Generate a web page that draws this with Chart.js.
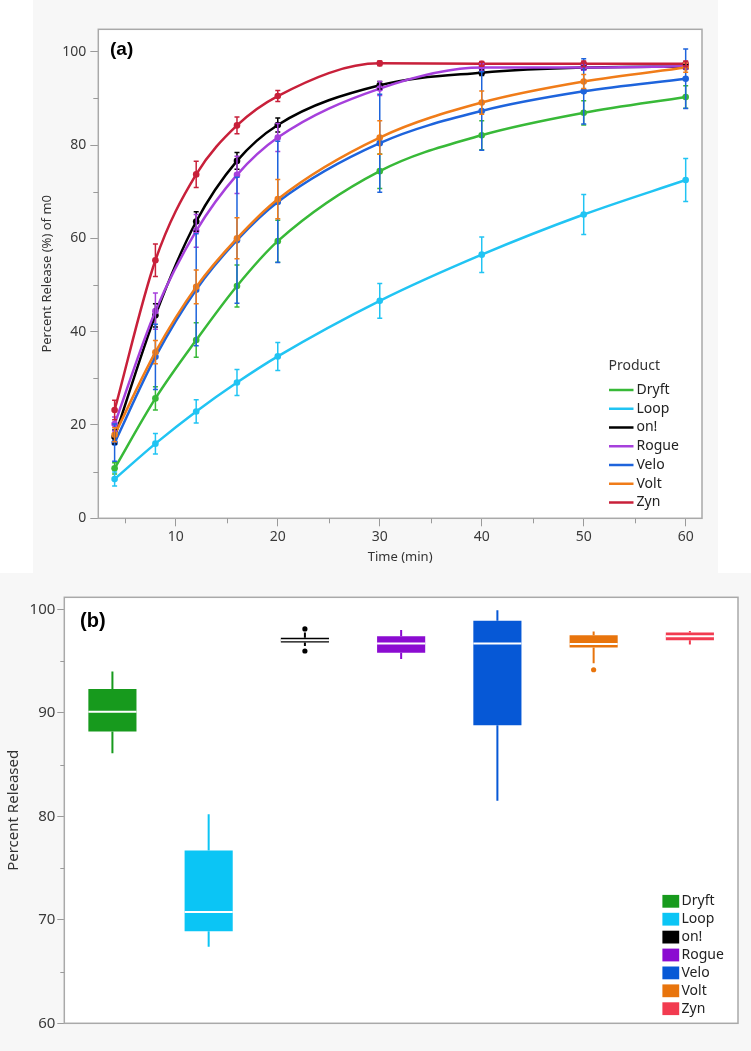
<!DOCTYPE html>
<html><head><meta charset="utf-8">
<script src="https://cdn.jsdelivr.net/npm/chart.js@4.4.1/dist/chart.umd.min.js"></script>
<style>
html,body{margin:0;padding:0;background:#fff;width:751px;height:1051px;overflow:hidden;}
#pa{position:absolute;left:33px;top:0;width:685px;height:573px;background:#f7f7f7;}
#pb{position:absolute;left:0;top:573px;width:751px;height:478px;background:#f7f7f7;}
canvas{display:block;}
</style></head><body>
<div id="pa"><canvas id="ca" width="685" height="573"></canvas></div>
<div id="pb"><canvas id="cb" width="751" height="478"></canvas></div>
<script>
// ---------- data: panel (a) ----------
const products = ['Dryft','Loop','on!','Rogue','Velo','Volt','Zyn'];
const times = [4, 8, 12, 16, 20, 30, 40, 50, 60];
const dryftMean = [10.7, 25.7, 38.2, 49.8, 59.4, 74.4, 82.1, 86.9, 90.3];
const loopMean  = [8.4, 16.0, 22.9, 29.1, 34.7, 46.6, 56.5, 65.1, 72.5];
const onMean    = [17.4, 43.5, 63.6, 76.6, 84.3, 92.8, 95.5, 96.6, 96.8];
const rogueMean = [20.2, 44.4, 61.6, 73.6, 81.6, 92.1, 96.6, 96.6, 96.9];
const veloMean  = [16.2, 34.6, 49.0, 59.6, 67.8, 80.4, 87.3, 91.5, 94.2];
const voltMean  = [17.9, 35.6, 49.6, 60.0, 68.4, 81.6, 89.1, 93.6, 96.6];
const zynMean   = [23.2, 55.3, 73.7, 84.2, 90.5, 97.5, 97.4, 97.4, 97.4];
const dryftSD = [1.2, 2.5, 3.7, 4.5, 4.5, 3.7, 3.1, 2.6, 2.4];
const loopSD  = [1.5, 2.2, 2.5, 2.8, 3.0, 3.7, 3.8, 4.3, 4.6];
const onSD    = [1.5, 2.5, 2.1, 1.8, 1.5, 0.8, 0.6, 0.5, 0.5];
const rogueSD = [1.5, 3.9, 3.5, 4.0, 3.0, 1.5, 0.8, 0.6, 0.6];
const veloSD  = [4.0, 7.0, 12.0, 13.5, 13.0, 10.5, 8.4, 7.0, 6.4];
const voltSD  = [1.5, 2.5, 3.6, 4.4, 4.2, 3.6, 2.5, 1.5, 1.0];
const zynSD   = [2.1, 3.5, 2.8, 1.8, 1.2, 0.5, 0.5, 0.6, 0.6];
const xTicksA = [10, 20, 30, 40, 50, 60];
const xMinorA = [5, 15, 25, 35, 45, 55];
const yTicksA = [0, 20, 40, 60, 80, 100];
const yMinorA = [10, 30, 50, 70, 90];

// ---------- data: panel (b) ----------
const whiskerLow  = [86.1, 67.4, 96.45, 95.2, 81.5, 94.8, 96.6];
const quart1      = [88.2, 68.9, 96.8, 95.8, 88.8, 96.3, 97.0];
const medianVal   = [90.1, 70.75, 97.0, 96.7, 96.7, 96.65, 97.4];
const quart3      = [92.3, 76.7, 97.25, 97.4, 98.9, 97.5, 97.75];
const whiskerHigh = [94.0, 80.2, 97.75, 98.0, 99.9, 97.85, 97.9];
const outlierProduct = ['on!', 'on!', 'Volt'];
const outlierValue   = [98.1, 95.97, 94.16];
const yTicksB = [60, 70, 80, 90, 100];
const yMinorB = [65, 75, 85, 95];

const colorsA = ['#38b938','#21c4f3','#000000','#a640dc','#1e64dc','#f07c19','#c8203a'];
const colorsB = ['#179a1d','#0bc5f5','#000000','#8b0bd1','#0658d6','#e8740c','#f23b50'];

const FAM = "'Noto Sans','DejaVu Sans',sans-serif";
Chart.defaults.font.family = FAM;
Chart.defaults.animation = false;

const meansA = [dryftMean, loopMean, onMean, rogueMean, veloMean, voltMean, zynMean];
const sdsA = [dryftSD, loopSD, onSD, rogueSD, veloSD, voltSD, zynSD];

function drawFrame(ctx, a){
  ctx.save();
  ctx.strokeStyle = '#a9a9a9';
  ctx.lineWidth = 1.5;
  ctx.strokeRect(a.left, a.top, a.right - a.left, a.bottom - a.top);
  ctx.restore();
}

const panelA = {
  id: 'panelA',
  beforeDraw(chart){
    const {ctx, chartArea:a} = chart;
    ctx.save(); ctx.fillStyle = '#fff';
    ctx.fillRect(a.left, a.top, a.right - a.left, a.bottom - a.top);
    ctx.restore();
  },
  afterDatasetsDraw(chart){
    const {ctx, chartArea:a} = chart;
    const xs = chart.scales.x, ys = chart.scales.y;
    ctx.save();
    ctx.beginPath(); ctx.rect(a.left, a.top, a.right - a.left, a.bottom - a.top); ctx.clip();
    ctx.lineWidth = 1.5;
    for (let i = 0; i < products.length; i++){
      ctx.strokeStyle = colorsA[i];
      for (let j = 0; j < times.length; j++){
        const px = xs.getPixelForValue(times[j]);
        const y1 = ys.getPixelForValue(meansA[i][j] + sdsA[i][j]);
        const y2 = ys.getPixelForValue(meansA[i][j] - sdsA[i][j]);
        ctx.beginPath();
        ctx.moveTo(px, y1); ctx.lineTo(px, y2);
        ctx.moveTo(px - 2.5, y1); ctx.lineTo(px + 2.5, y1);
        ctx.moveTo(px - 2.5, y2); ctx.lineTo(px + 2.5, y2);
        ctx.stroke();
      }
    }
    ctx.restore();
  },
  afterDraw(chart){
    const {ctx, chartArea:a} = chart;
    const xs = chart.scales.x, ys = chart.scales.y;
    drawFrame(ctx, a);
    ctx.save();
    ctx.strokeStyle = '#9a9a9a'; ctx.lineWidth = 1;
    ctx.beginPath();
    yMinorA.forEach(v => { const p = Math.round(ys.getPixelForValue(v)) + 0.5; ctx.moveTo(a.left - 5, p); ctx.lineTo(a.left, p); });
    xMinorA.forEach(v => { const p = Math.round(xs.getPixelForValue(v)) + 0.5; ctx.moveTo(p, a.bottom); ctx.lineTo(p, a.bottom + 5); });
    ctx.stroke();
    // panel label
    ctx.fillStyle = '#000';
    ctx.font = "bold 19px 'Liberation Sans',Arial,sans-serif";
    ctx.textBaseline = 'middle'; ctx.textAlign = 'left';
    ctx.fillText('(a)', 77, 49.5);
    // legend
    ctx.font = '14px ' + FAM;
    ctx.fillStyle = '#333';
    ctx.fillText('Product', 575.5, 366);
    products.forEach((p, i) => {
      const cy = 390 + i * 18.75;
      ctx.strokeStyle = colorsA[i]; ctx.lineWidth = 2.5;
      ctx.beginPath(); ctx.moveTo(576, cy); ctx.lineTo(600.5, cy); ctx.stroke();
      ctx.fillStyle = '#222';
      ctx.fillText(p, 603.5, cy);
    });
    ctx.restore();
  }
};

new Chart(document.getElementById('ca'), {
  type: 'line',
  data: {
    datasets: products.map((p, i) => ({
      label: p,
      data: times.map((t, j) => ({x: t, y: meansA[i][j]})),
      borderColor: colorsA[i],
      backgroundColor: colorsA[i],
      pointBackgroundColor: colorsA[i],
      borderWidth: 2.5,
      pointRadius: 3.3,
      pointBorderWidth: 0,
      cubicInterpolationMode: 'monotone',
      fill: false,
      order: products.length - 1 - i
    }))
  },
  options: {
    responsive: false,
    devicePixelRatio: 1,
    animation: false,
    layout: {padding: {left: 0, top: 29.3, right: 16, bottom: 0}},
    plugins: {legend: {display: false}, tooltip: {enabled: false}, title: {display: false}},
    scales: {
      x: {
        type: 'linear', min: 2.4, max: 61.6,
        afterBuildTicks: s => { s.ticks = xTicksA.map(v => ({value: v})); },
        afterFit: s => { s.height = 54.7; },
        grid: {drawOnChartArea: false, drawTicks: true, tickLength: 8, color: '#9a9a9a'},
        border: {display: false},
        ticks: {font: {size: 14}, color: '#3a3a3a', padding: 2, maxRotation: 0},
        title: {display: true, text: 'Time (min)', font: {size: 13}, color: '#333', padding: {top: 0, bottom: 8}}
      },
      y: {
        type: 'linear', min: 0, max: 104.8,
        afterBuildTicks: s => { s.ticks = yTicksA.map(v => ({value: v})); },
        afterFit: s => { s.width = 65.3; },
        grid: {drawOnChartArea: false, drawTicks: true, tickLength: 8, color: '#9a9a9a'},
        border: {display: false},
        ticks: {font: {size: 14}, color: '#3a3a3a', padding: 4},
        title: {display: true, text: 'Percent Release (%) of m0', font: {size: 13}, color: '#333', padding: {top: 6, bottom: 0}}
      }
    }
  },
  plugins: [panelA]
});

// ---------- panel (b) ----------
const panelB = {
  id: 'panelB',
  beforeDraw(chart){
    const {ctx, chartArea:a} = chart;
    ctx.save(); ctx.fillStyle = '#fff';
    ctx.fillRect(a.left, a.top, a.right - a.left, a.bottom - a.top);
    ctx.restore();
  },
  afterDatasetsDraw(chart){
    const {ctx} = chart;
    const xs = chart.scales.x, ys = chart.scales.y;
    const meta = chart.getDatasetMeta(0);
    ctx.save();
    products.forEach((p, i) => {
      const px = xs.getPixelForValue(i);
      const bw = meta.data[i].width;
      ctx.strokeStyle = colorsB[i]; ctx.lineWidth = 2;
      ctx.beginPath();
      ctx.moveTo(px, ys.getPixelForValue(quart3[i])); ctx.lineTo(px, ys.getPixelForValue(whiskerHigh[i]));
      ctx.moveTo(px, ys.getPixelForValue(quart1[i])); ctx.lineTo(px, ys.getPixelForValue(whiskerLow[i]));
      ctx.stroke();
      ctx.strokeStyle = '#ffffff'; ctx.lineWidth = 2;
      const my = ys.getPixelForValue(medianVal[i]);
      ctx.beginPath(); ctx.moveTo(px - bw / 2, my); ctx.lineTo(px + bw / 2, my); ctx.stroke();
    });
    ctx.restore();
  },
  afterDraw(chart){
    const {ctx, chartArea:a} = chart;
    const ys = chart.scales.y;
    drawFrame(ctx, a);
    ctx.save();
    ctx.strokeStyle = '#9a9a9a'; ctx.lineWidth = 1;
    ctx.beginPath();
    yMinorB.forEach(v => { const p = Math.round(ys.getPixelForValue(v)) + 0.5; ctx.moveTo(a.left - 4, p); ctx.lineTo(a.left, p); });
    ctx.stroke();
    ctx.fillStyle = '#000';
    ctx.font = "bold 20px 'Liberation Sans',Arial,sans-serif";
    ctx.textBaseline = 'middle'; ctx.textAlign = 'left';
    ctx.fillText('(b)', 80, 48);
    ctx.font = '14px ' + FAM;
    products.forEach((p, i) => {
      const cy = 328.3 + i * 17.9;
      ctx.fillStyle = colorsB[i];
      ctx.fillRect(662.4, cy - 6.4, 16.8, 12.8);
      ctx.fillStyle = '#222';
      ctx.fillText(p, 681.5, cy);
    });
    ctx.restore();
  }
};

new Chart(document.getElementById('cb'), {
  type: 'bar',
  data: {
    labels: products,
    datasets: [
      {
        type: 'bar',
        label: 'IQR',
        data: products.map((p, i) => [quart1[i], quart3[i]]),
        backgroundColor: colorsB,
        borderWidth: 0,
        borderSkipped: false,
        barPercentage: 0.5,
        categoryPercentage: 1
      },
      {
        type: 'line',
        label: 'Outliers',
        data: outlierProduct.map((p, k) => ({x: p, y: outlierValue[k]})),
        showLine: false,
        pointRadius: 2.6,
        pointBorderWidth: 0,
        pointBackgroundColor: outlierProduct.map(p => colorsB[products.indexOf(p)])
      }
    ]
  },
  options: {
    responsive: false,
    devicePixelRatio: 1,
    animation: false,
    layout: {padding: {left: 0, top: 24.3, right: 13, bottom: 27.7}},
    plugins: {legend: {display: false}, tooltip: {enabled: false}, title: {display: false}},
    scales: {
      x: {type: 'category', display: false, offset: true},
      y: {
        type: 'linear', min: 60, max: 101.16,
        afterBuildTicks: s => { s.ticks = yTicksB.map(v => ({value: v})); },
        afterFit: s => { s.width = 64.3; },
        grid: {drawOnChartArea: false, drawTicks: true, tickLength: 7, color: '#9a9a9a'},
        border: {display: false},
        ticks: {font: {size: 15}, color: '#3a3a3a', padding: 2},
        title: {display: true, text: 'Percent Released', font: {size: 15}, color: '#333', padding: {top: 5, bottom: 0}}
      }
    }
  },
  plugins: [panelB]
});
</script>
</body></html>
